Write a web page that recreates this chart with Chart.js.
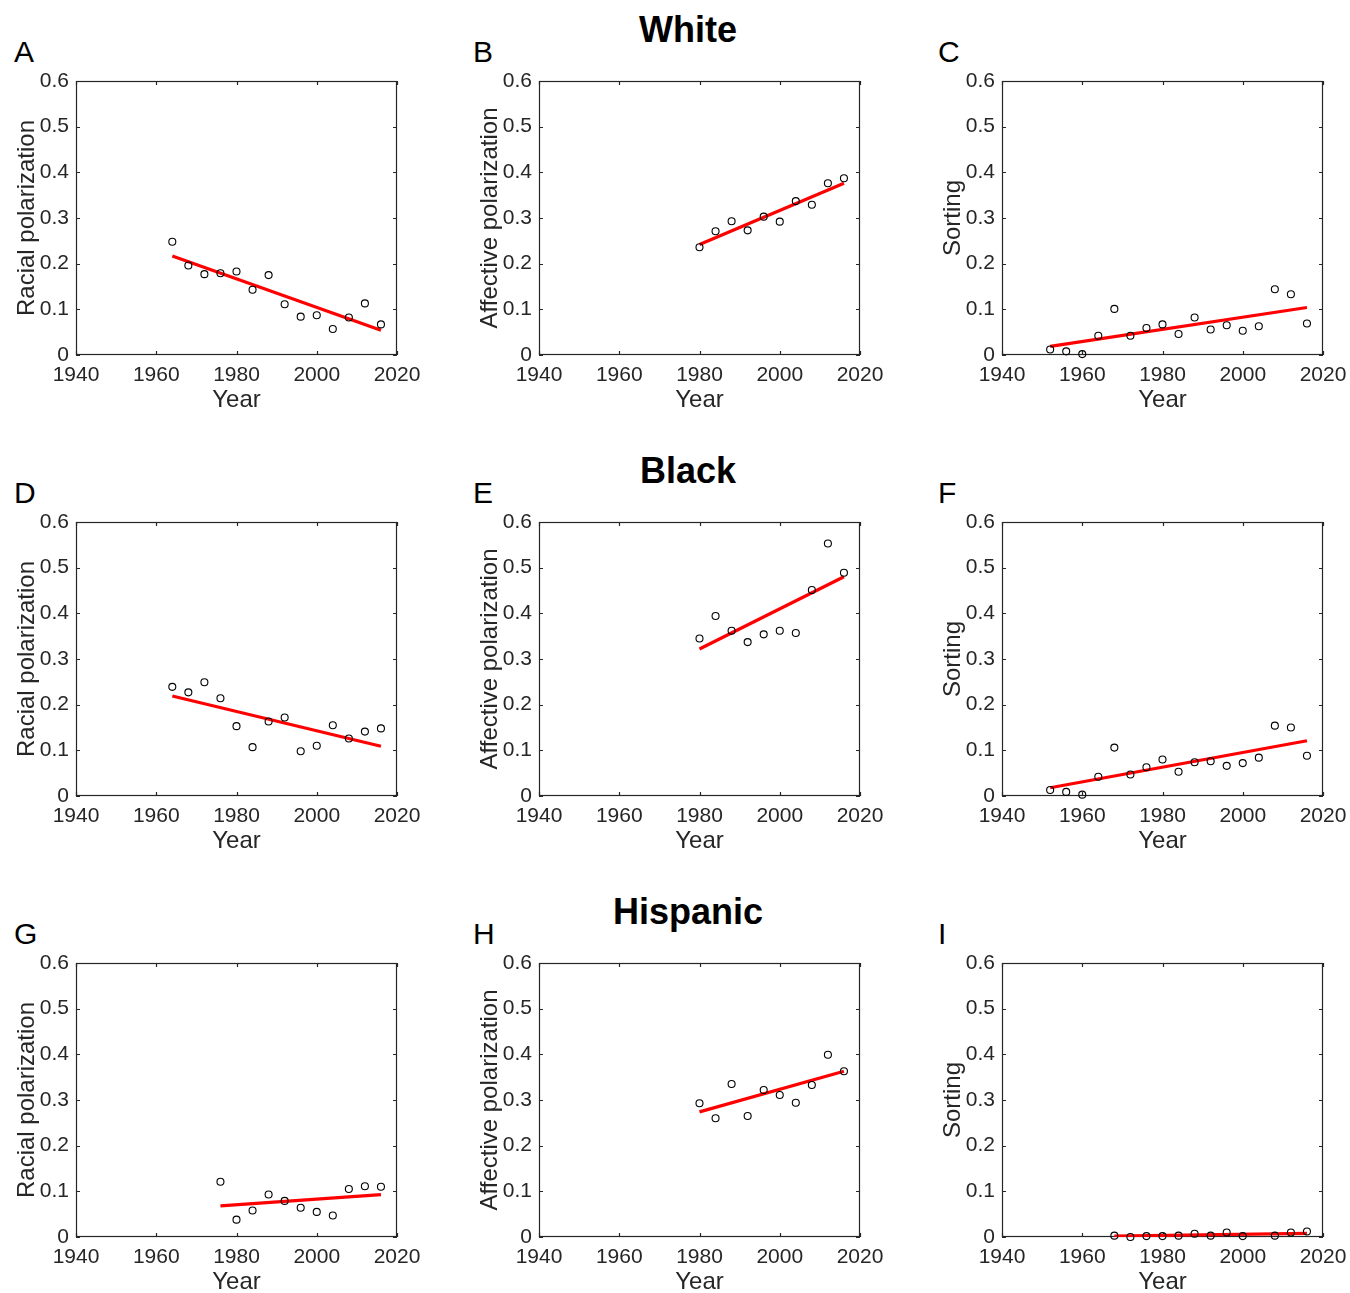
<!DOCTYPE html>
<html>
<head>
<meta charset="utf-8">
<script src="https://cdn.jsdelivr.net/npm/chart.js@4.4.1/dist/chart.umd.min.js"></script>
<style>
  body { margin: 0; background: #fff; width: 1350px; height: 1293px; position: relative; overflow: hidden;
         font-family: "Liberation Sans", Arial, sans-serif; }
  .panel { position: absolute; }
  .letter { position: absolute; font-size: 30px; line-height: 30px; color: #000; }
  .title { position: absolute; font-size: 36px; line-height: 36px; font-weight: bold; color: #000;
           width: 400px; text-align: center; }
</style>
</head>
<body>
<div class="title" style="left:488px; top:12px;">White</div>
<div class="title" style="left:488px; top:453px;">Black</div>
<div class="title" style="left:488px; top:894px;">Hispanic</div>

<div class="letter" style="left:14px; top:37px;">A</div>
<div class="letter" style="left:473px; top:37px;">B</div>
<div class="letter" style="left:938px; top:37px;">C</div>
<div class="letter" style="left:14px; top:478px;">D</div>
<div class="letter" style="left:473px; top:478px;">E</div>
<div class="letter" style="left:938px; top:478px;">F</div>
<div class="letter" style="left:14px; top:919px;">G</div>
<div class="letter" style="left:473px; top:919px;">H</div>
<div class="letter" style="left:938px; top:919px;">I</div>

<script>
// ---------- DATA ----------
const xTicks = [1940, 1960, 1980, 2000, 2020];
const yTicks = [0, 0.1, 0.2, 0.3, 0.4, 0.5, 0.6];
const yTickLabels = ['0', '0.1', '0.2', '0.3', '0.4', '0.5', '0.6'];

const racialYears = [1964, 1968, 1972, 1976, 1980, 1984, 1988, 1992, 1996, 2000, 2004, 2008, 2012, 2016];
const affectiveYears = [1980, 1984, 1988, 1992, 1996, 2000, 2004, 2008, 2012, 2016];
const sortingYears = [1952, 1956, 1960, 1964, 1968, 1972, 1976, 1980, 1984, 1988, 1992, 1996, 2000, 2004, 2008, 2012, 2016];
const hispRacialYears = [1976, 1980, 1984, 1988, 1992, 1996, 2000, 2004, 2008, 2012, 2016];
const hispSortingYears = [1968, 1972, 1976, 1980, 1984, 1988, 1992, 1996, 2000, 2008, 2012, 2016];

// White
const whiteRacial = [0.248, 0.196, 0.177, 0.179, 0.183, 0.143, 0.175, 0.111, 0.084, 0.087, 0.057, 0.082, 0.113, 0.067];
const whiteRacialFit = [0.217, 0.054];
const whiteAffective = [0.236, 0.271, 0.293, 0.273, 0.303, 0.292, 0.337, 0.329, 0.376, 0.387];
const whiteAffectiveFit = [0.242, 0.376];
const whiteSorting = [0.012, 0.008, 0.002, 0.042, 0.101, 0.042, 0.059, 0.067, 0.046, 0.082, 0.056, 0.065, 0.053, 0.063, 0.144, 0.133, 0.069];
const whiteSortingFit = [0.019, 0.104];

// Black
const blackRacial = [0.239, 0.227, 0.249, 0.214, 0.153, 0.107, 0.163, 0.172, 0.098, 0.110, 0.155, 0.126, 0.141, 0.148];
const blackRacialFit = [0.219, 0.109];
const blackAffective = [0.345, 0.394, 0.362, 0.337, 0.354, 0.362, 0.357, 0.451, 0.553, 0.489];
const blackAffectiveFit = [0.322, 0.480];
const blackSorting = [0.013, 0.009, 0.003, 0.042, 0.106, 0.047, 0.063, 0.080, 0.053, 0.074, 0.076, 0.066, 0.072, 0.084, 0.154, 0.150, 0.088];
const blackSortingFit = [0.018, 0.121];

// Hispanic
const hispRacial = [0.121, 0.038, 0.058, 0.093, 0.079, 0.064, 0.055, 0.047, 0.105, 0.111, 0.110];
const hispRacialFit = [0.068, 0.093];
const hispAffective = [0.293, 0.260, 0.335, 0.265, 0.322, 0.311, 0.294, 0.333, 0.399, 0.363];
const hispAffectiveFit = [0.274, 0.363];
const hispSorting = [0.003, 0.000, 0.002, 0.002, 0.003, 0.007, 0.003, 0.010, 0.002, 0.003, 0.010, 0.012];
const hispSortingFit = [0.002, 0.008];

// ---------- LAYOUT ----------
const colLeft = [76, 539, 1002];
const rowTop = [81, 522, 963];
const PLOT_W = 321;
const PLOT_H = 274;
const AXIS_W = 76;
const AXIS_H = 70;
const PAD_TOP = 20;
const PAD_RIGHT = 34;
const TICK_COLOR = '#262626';
const FONT = '"Liberation Sans", Arial, sans-serif';

// ---------- BOX + INWARD TICKS ----------
const matlabBox = {
    id: 'matlabBox',
    beforeDatasetsDraw(chart) {
        const ctx = chart.ctx;
        const a = chart.chartArea;
        const xs = chart.scales.x;
        const ys = chart.scales.y;
        const len = 4;
        ctx.save();
        ctx.strokeStyle = TICK_COLOR;
        ctx.lineWidth = 1.2;
        ctx.strokeRect(a.left + 0.5, a.top + 0.5, a.right - a.left - 1, a.bottom - a.top - 1);
        ctx.beginPath();
        xTicks.forEach(v => {
            const px = Math.round(xs.getPixelForValue(v)) + 0.5;
            ctx.moveTo(px, a.bottom); ctx.lineTo(px, a.bottom - len);
            ctx.moveTo(px, a.top); ctx.lineTo(px, a.top + len);
        });
        yTicks.forEach(v => {
            const py = Math.round(ys.getPixelForValue(v)) + 0.5;
            ctx.moveTo(a.left, py); ctx.lineTo(a.left + len, py);
            ctx.moveTo(a.right, py); ctx.lineTo(a.right - len, py);
        });
        ctx.stroke();
        ctx.restore();
    }
};

// ---------- PANELS ----------
function drawPanel(col, row, yLabel, years, values, fit) {
    const wrap = document.createElement('div');
    wrap.className = 'panel';
    const w = AXIS_W + PLOT_W + PAD_RIGHT;
    const h = PAD_TOP + PLOT_H + AXIS_H;
    wrap.style.left = (colLeft[col] - AXIS_W) + 'px';
    wrap.style.top = (rowTop[row] - PAD_TOP) + 'px';
    wrap.style.width = w + 'px';
    wrap.style.height = h + 'px';
    const canvas = document.createElement('canvas');
    canvas.width = w;
    canvas.height = h;
    canvas.style.width = w + 'px';
    canvas.style.height = h + 'px';
    wrap.appendChild(canvas);
    document.body.appendChild(wrap);

    const points = years.map((yr, i) => ({ x: yr, y: values[i] }));
    const fitLine = [
        { x: years[0], y: fit[0] },
        { x: years[years.length - 1], y: fit[1] }
    ];

    new Chart(canvas.getContext('2d'), {
        type: 'scatter',
        data: {
            datasets: [{
                type: 'scatter',
                data: points,
                pointRadius: 3.5,
                pointBorderWidth: 1.1,
                borderColor: '#000',
                backgroundColor: 'rgba(0,0,0,0)',
                pointBackgroundColor: 'rgba(0,0,0,0)',
                clip: false,
                order: 0
            }, {
                type: 'line',
                data: fitLine,
                borderColor: '#ff0000',
                borderWidth: 3.2,
                pointRadius: 0,
                fill: false,
                order: 1
            }]
        },
        options: {
            responsive: false,
            animation: false,
            devicePixelRatio: 1,
            layout: { padding: { top: PAD_TOP, right: PAD_RIGHT, left: 0, bottom: 0 } },
            plugins: { legend: { display: false }, tooltip: { enabled: false } },
            scales: {
                x: {
                    type: 'linear',
                    min: 1940,
                    max: 2020,
                    grid: { display: false, drawTicks: false },
                    border: { display: false },
                    afterBuildTicks: s => { s.ticks = xTicks.map(v => ({ value: v })); },
                    afterFit: s => { s.height = AXIS_H; },
                    ticks: {
                        color: TICK_COLOR,
                        padding: 8,
                        maxRotation: 0,
                        font: { family: FONT, size: 21 },
                        callback: v => String(v)
                    },
                    title: {
                        display: true,
                        text: 'Year',
                        color: TICK_COLOR,
                        padding: { top: 0, bottom: 10 },
                        font: { family: FONT, size: 24 }
                    }
                },
                y: {
                    type: 'linear',
                    min: 0,
                    max: 0.6,
                    grid: { display: false, drawTicks: false },
                    border: { display: false },
                    afterBuildTicks: s => { s.ticks = yTicks.map(v => ({ value: v })); },
                    afterFit: s => { s.width = AXIS_W; },
                    ticks: {
                        color: TICK_COLOR,
                        padding: 7,
                        font: { family: FONT, size: 21 },
                        callback: (v, i) => yTickLabels[i]
                    },
                    title: {
                        display: true,
                        text: yLabel,
                        color: TICK_COLOR,
                        padding: { top: 13, bottom: 0 },
                        font: { family: FONT, size: 24 }
                    }
                }
            }
        },
        plugins: [matlabBox]
    });
}

drawPanel(0, 0, 'Racial polarization', racialYears, whiteRacial, whiteRacialFit);
drawPanel(1, 0, 'Affective polarization', affectiveYears, whiteAffective, whiteAffectiveFit);
drawPanel(2, 0, 'Sorting', sortingYears, whiteSorting, whiteSortingFit);
drawPanel(0, 1, 'Racial polarization', racialYears, blackRacial, blackRacialFit);
drawPanel(1, 1, 'Affective polarization', affectiveYears, blackAffective, blackAffectiveFit);
drawPanel(2, 1, 'Sorting', sortingYears, blackSorting, blackSortingFit);
drawPanel(0, 2, 'Racial polarization', hispRacialYears, hispRacial, hispRacialFit);
drawPanel(1, 2, 'Affective polarization', affectiveYears, hispAffective, hispAffectiveFit);
drawPanel(2, 2, 'Sorting', hispSortingYears, hispSorting, hispSortingFit);
</script>
</body>
</html>
